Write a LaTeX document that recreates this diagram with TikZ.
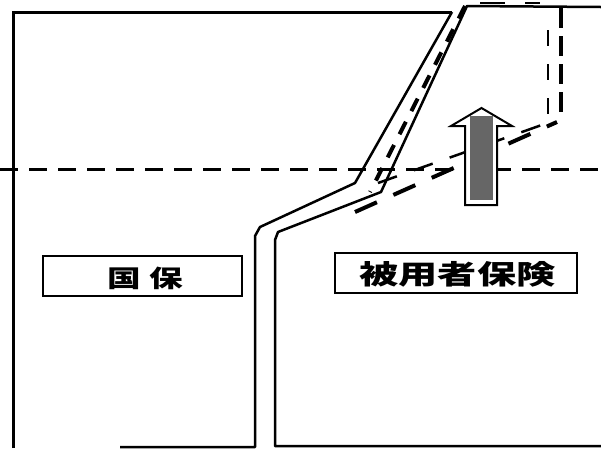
\documentclass[tikz,border=0pt]{standalone}
\usepackage{fontspec}
\newfontfamily\cjk{Noto Sans CJK JP}
\begin{document}
\begin{tikzpicture}[x=1pt,y=-1pt,
  frame/.style={line width=3pt,line cap=butt},
  wall/.style={line width=2.5pt,line join=round},
  hdash/.style={line width=3pt,dash pattern=on 18pt off 11pt},
  thickdash/.style={line width=4pt,dash pattern=on 24pt off 18pt},
  thindash/.style={line width=2.5pt,dash pattern=on 20pt off 18pt},
  vdash/.style={line width=4pt,dash pattern=on 20pt off 8pt},
  vthindash/.style={line width=2.5pt,dash pattern=on 16pt off 18pt},
  labelbox/.style={draw,line width=1.3pt,inner sep=0pt},
  labeltext/.style={font=\cjk\bfseries}
]
\useasboundingbox (0,0) rectangle (601,448);
% left region (Kokuho)
\draw[frame] (13,448) -- (13,12) -- (452,12);
\draw[wall] (452,12) -- (355,183) -- (260,227) -- (255,236) -- (255,447) -- (120,447);
% right region (employee insurance)
\draw[wall] (601,7) -- (467,6) -- (381,192) -- (278,232) -- (275,240) -- (275,446) -- (601,446);
% dashed line between the walls
\draw[line width=4pt,dash pattern=on 14pt off 12pt] (465,6) -- (370,192);
% future boundary
\draw[line width=2pt,dash pattern=on 25pt off 20pt] (480,3) -- (540,3);
\draw[vdash] (561,8) -- (561,116);
\draw[vthindash] (548,30) -- (548,114);
\draw[thickdash] (355,212) -- (557,122);
\draw[thindash] (378,183) -- (553,121);
% horizontal dashed line
\draw[hdash] (0,169) -- (601,169);
% arrow
\draw[line width=2pt,fill=white,line join=miter]
  (465,205) -- (465,126) -- (451,126) -- (481.5,108) -- (512,126) -- (497,126) -- (497,205) -- cycle;
\fill[black!60] (470,116) rectangle (493,200);
% labels
\draw[labelbox] (43,256) rectangle (242,296);
\node[labeltext] (kokuho) at (145,278) {\scalebox{1.4}[1]{\fontsize{24pt}{24pt}\selectfont 国\hspace{6pt}保}};
\draw[labelbox] (335,253) rectangle (577,293);
\node[labeltext] (hiyosha) at (457.5,274.5) {\scalebox{1.45}[1]{\fontsize{27pt}{27pt}\selectfont 被用者保険}};
\end{tikzpicture}
\end{document}
